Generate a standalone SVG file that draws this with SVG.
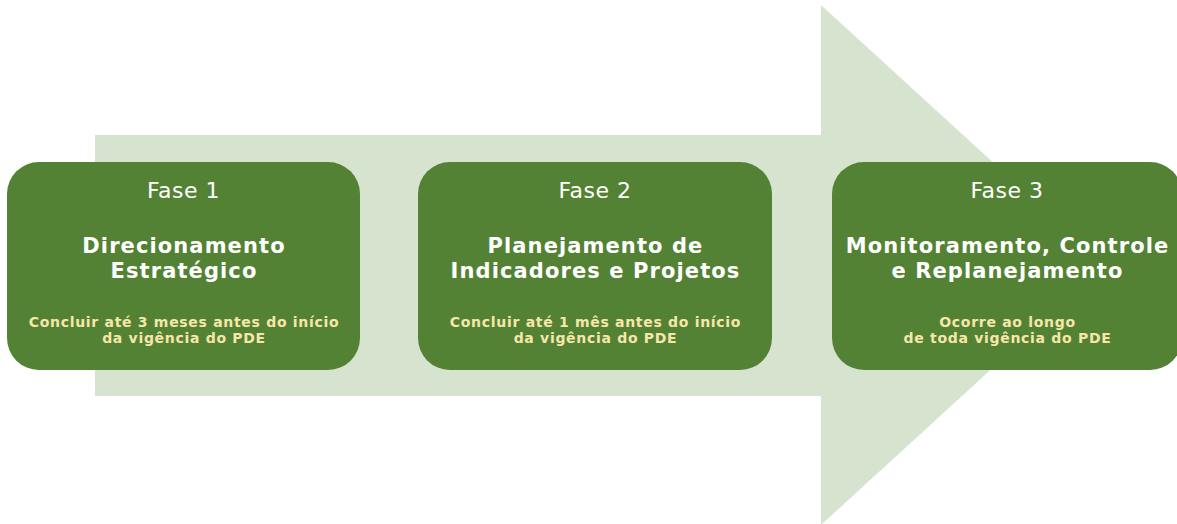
<svg xmlns="http://www.w3.org/2000/svg" width="1177" height="524" viewBox="0 0 1177 524">
<style>
.box{fill:#548235;}
.t{font-family:"DejaVu Sans",Verdana,sans-serif;text-anchor:middle;}
.fase{font-size:22px;fill:#ffffff;letter-spacing:0.5px;}
.title{font-size:21px;font-weight:bold;fill:#ffffff;letter-spacing:1.1px;}
.sub{font-size:14px;font-weight:bold;fill:#f6e7a9;letter-spacing:0.7px;}
</style>
<rect width="1177" height="524" fill="#ffffff"/>
<g id="arrow">
<polygon points="95,135 821,135 821,5 1105,265 821,525 821,396 95,396" fill="#d6e3cf"/>
</g>
<g id="connectors"></g>
<g id="fase1">
<rect class="box" x="7" y="162" width="353" height="208" rx="32"/>
<text class="t fase" x="183.5" y="198">Fase 1</text>
<text class="t title" x="184" y="253">Direcionamento</text>
<text class="t title" x="184" y="278">Estratégico</text>
<text class="t sub" x="184" y="327">Concluir até 3 meses antes do início</text>
<text class="t sub" x="184" y="343">da vigência do PDE</text>
</g>
<g id="fase2">
<rect class="box" x="418" y="162" width="354" height="208" rx="32"/>
<text class="t fase" x="595" y="198">Fase 2</text>
<text class="t title" x="595.5" y="253">Planejamento de</text>
<text class="t title" x="595.5" y="278">Indicadores e Projetos</text>
<text class="t sub" x="595.5" y="327">Concluir até 1 mês antes do início</text>
<text class="t sub" x="595.5" y="343">da vigência do PDE</text>
</g>
<g id="fase3">
<rect class="box" x="832" y="162" width="350" height="208" rx="32"/>
<text class="t fase" x="1007" y="198">Fase 3</text>
<text class="t title" x="1007.5" y="253">Monitoramento, Controle</text>
<text class="t title" x="1007.5" y="278">e Replanejamento</text>
<text class="t sub" x="1007.5" y="327">Ocorre ao longo</text>
<text class="t sub" x="1007.5" y="343">de toda vigência do PDE</text>
</g>
</svg>
